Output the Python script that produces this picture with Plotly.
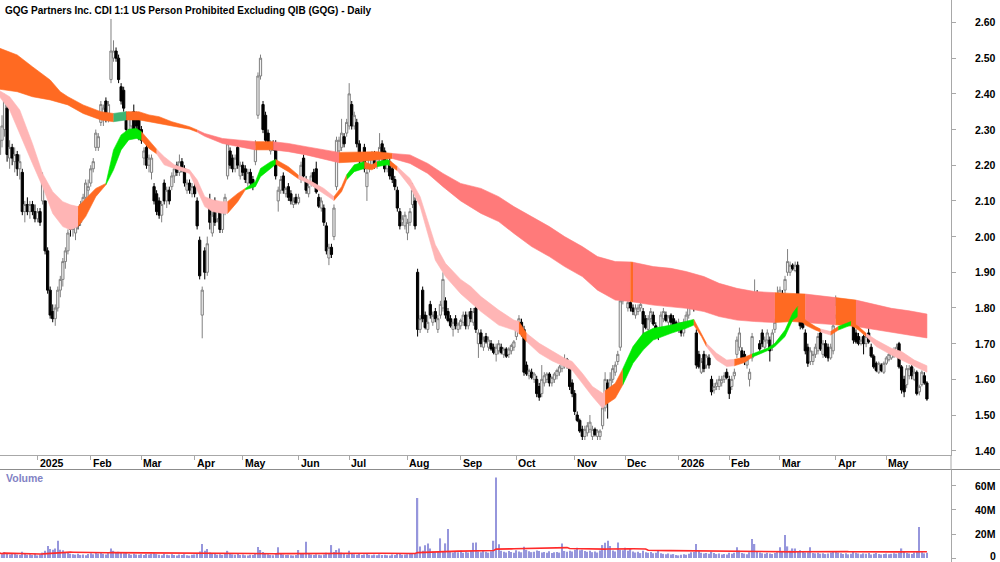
import numpy as np
import pandas as pd
import plotly.graph_objects as go

title_text = "GQG Partners Inc. CDI 1:1 US Person Prohibited Excluding QIB (GQG) - Daily"
start_date = "2024-12-09"
asx_holidays = ["2024-12-25", "2024-12-26", "2025-01-01", "2025-01-27", "2025-04-18",
                "2025-04-21", "2025-04-25", "2025-06-09", "2025-12-25", "2025-12-26",
                "2026-01-01", "2026-01-26", "2026-04-03", "2026-04-06"]

opens = [
    2.23, 2.27, 2.30, 2.36, 2.22, 2.25, 2.21, 2.23, 2.19, 2.18,
    2.07, 2.09, 2.07, 2.09, 2.07, 2.05, 2.07, 2.10, 2.10, 1.96,
    1.85, 1.79, 1.77, 1.80, 1.85, 1.88, 1.93, 1.96, 2.04, 2.02,
    2.01, 2.05, 2.04, 2.09, 2.11, 2.13, 2.15, 2.19, 2.25, 2.25,
    2.32, 2.33, 2.38, 2.33, 2.44, 2.50, 2.52, 2.50, 2.42, 2.41,
    2.34, 2.30, 2.31, 2.35, 2.34, 2.33, 2.30, 2.22, 2.25, 2.20,
    2.18, 2.14, 2.12, 2.10, 2.06, 2.15, 2.10, 2.13, 2.14, 2.17,
    2.20, 2.18, 2.21, 2.19, 2.13, 2.15, 2.12, 2.14, 2.10, 1.99,
    1.78, 1.96, 1.90, 2.10, 2.01, 2.10, 2.05, 2.07, 2.02, 2.07,
    2.17, 2.24, 2.22, 2.19, 2.25, 2.17, 2.20, 2.19, 2.15, 2.18,
    2.16, 2.21, 2.34, 2.45, 2.37, 2.34, 2.29, 2.24, 2.26, 2.26,
    2.10, 2.13, 2.17, 2.12, 2.14, 2.12, 2.09, 2.11, 2.095, 2.16,
    2.22, 2.16, 2.12, 2.15, 2.18, 2.19, 2.11, 2.08, 2.08, 2.03,
    1.94, 1.97, 2.00, 2.14, 2.24, 2.25, 2.28, 2.29, 2.31, 2.37,
    2.31, 2.32, 2.26, 2.20, 2.25, 2.14, 2.19, 2.20, 2.23, 2.20,
    2.22, 2.26, 2.24, 2.19, 2.21, 2.19, 2.16, 2.13, 2.07, 2.04,
    2.03, 2.01, 2.04, 2.09, 2.10, 1.90, 1.74, 1.85, 1.78, 1.74,
    1.81, 1.76, 1.79, 1.74, 1.78, 1.80, 1.82, 1.79, 1.77, 1.74,
    1.77, 1.74, 1.75, 1.76, 1.78, 1.75, 1.79, 1.76, 1.80, 1.70,
    1.73, 1.69, 1.72, 1.69, 1.70, 1.69, 1.67, 1.68, 1.69, 1.67,
    1.685, 1.67, 1.68, 1.69, 1.72, 1.74, 1.76, 1.74, 1.64, 1.61,
    1.62, 1.60, 1.60, 1.58, 1.56, 1.59, 1.60, 1.615, 1.59, 1.60,
    1.61, 1.62, 1.63, 1.64, 1.655, 1.63, 1.59, 1.56, 1.50, 1.485,
    1.46, 1.44, 1.45, 1.46, 1.44, 1.46, 1.44, 1.44, 1.47, 1.52,
    1.59, 1.57, 1.60, 1.62, 1.65, 1.69, 1.82, 1.87, 1.80, 1.815,
    1.80, 1.78, 1.79, 1.80, 1.79, 1.77, 1.74, 1.77, 1.78, 1.75,
    1.74, 1.74, 1.77, 1.78, 1.76, 1.78, 1.77, 1.76, 1.74, 1.75,
    1.73, 1.76, 1.78, 1.81, 1.84, 1.73, 1.67, 1.62, 1.67, 1.64,
    1.66, 1.60, 1.57, 1.58, 1.58, 1.59, 1.60, 1.62, 1.60, 1.58,
    1.61, 1.67, 1.69, 1.68, 1.67, 1.64, 1.60, 1.66, 1.80, 1.84,
    1.70, 1.73, 1.69, 1.71, 1.71, 1.69, 1.74, 1.78, 1.81, 1.84,
    1.85, 1.90, 1.90, 1.92, 1.905, 1.92, 1.78, 1.77, 1.73, 1.69,
    1.65, 1.65, 1.67, 1.68, 1.73, 1.67, 1.70, 1.69, 1.66, 1.68,
    1.78, 1.78, 1.80, 1.77, 1.78, 1.76, 1.77, 1.79, 1.73, 1.72,
    1.70, 1.72, 1.70, 1.73, 1.69, 1.665, 1.645, 1.62, 1.64, 1.62,
    1.645, 1.655, 1.66, 1.665, 1.675, 1.70, 1.635, 1.60, 1.585, 1.61,
    1.635, 1.60, 1.62, 1.565, 1.585, 1.61, 1.59]

highs = [
    2.30, 2.34, 2.40, 2.37, 2.27, 2.26, 2.25, 2.24, 2.23, 2.19,
    2.10, 2.11, 2.10, 2.10, 2.09, 2.08, 2.08, 2.18, 2.10, 1.97,
    1.86, 1.81, 1.81, 1.86, 1.89, 1.94, 1.97, 2.02, 2.05, 2.05,
    2.05, 2.06, 2.10, 2.12, 2.16, 2.16, 2.20, 2.22, 2.30, 2.29,
    2.38, 2.37, 2.39, 2.38, 2.61, 2.55, 2.53, 2.51, 2.43, 2.42,
    2.35, 2.35, 2.35, 2.37, 2.35, 2.34, 2.31, 2.25, 2.26, 2.23,
    2.23, 2.15, 2.13, 2.11, 2.10, 2.16, 2.14, 2.14, 2.18, 2.20,
    2.21, 2.23, 2.22, 2.20, 2.16, 2.16, 2.15, 2.15, 2.11, 2.00,
    1.86, 1.97, 2.00, 2.12, 2.07, 2.11, 2.09, 2.08, 2.09, 2.12,
    2.27, 2.25, 2.23, 2.23, 2.26, 2.21, 2.21, 2.20, 2.19, 2.19,
    2.17, 2.27, 2.46, 2.51, 2.38, 2.35, 2.30, 2.27, 2.27, 2.27,
    2.14, 2.17, 2.18, 2.14, 2.15, 2.13, 2.11, 2.12, 2.12, 2.21,
    2.23, 2.17, 2.15, 2.18, 2.19, 2.21, 2.12, 2.11, 2.09, 2.04,
    1.98, 1.98, 2.09, 2.28, 2.28, 2.33, 2.29, 2.33, 2.43, 2.38,
    2.35, 2.33, 2.27, 2.22, 2.26, 2.19, 2.23, 2.24, 2.24, 2.23,
    2.29, 2.27, 2.25, 2.22, 2.22, 2.20, 2.17, 2.14, 2.08, 2.06,
    2.07, 2.05, 2.08, 2.15, 2.11, 1.91, 1.78, 1.86, 1.79, 1.78,
    1.82, 1.79, 1.80, 1.78, 1.82, 1.90, 1.83, 1.80, 1.78, 1.77,
    1.78, 1.76, 1.77, 1.79, 1.79, 1.79, 1.80, 1.80, 1.81, 1.74,
    1.74, 1.72, 1.73, 1.72, 1.71, 1.70, 1.70, 1.71, 1.70, 1.69,
    1.69, 1.69, 1.70, 1.71, 1.76, 1.78, 1.77, 1.75, 1.65, 1.63,
    1.63, 1.62, 1.61, 1.59, 1.64, 1.62, 1.62, 1.62, 1.61, 1.62,
    1.63, 1.64, 1.65, 1.67, 1.66, 1.64, 1.60, 1.57, 1.51, 1.49,
    1.47, 1.47, 1.48, 1.50, 1.47, 1.465, 1.46, 1.46, 1.53, 1.62,
    1.60, 1.62, 1.64, 1.65, 1.68, 1.83, 1.86, 1.90, 1.83, 1.82,
    1.81, 1.81, 1.81, 1.82, 1.80, 1.78, 1.78, 1.80, 1.79, 1.76,
    1.745, 1.79, 1.80, 1.79, 1.78, 1.785, 1.78, 1.765, 1.77, 1.76,
    1.77, 1.79, 1.82, 1.87, 1.85, 1.74, 1.68, 1.66, 1.68, 1.67,
    1.67, 1.61, 1.59, 1.60, 1.61, 1.61, 1.62, 1.63, 1.61, 1.61,
    1.63, 1.72, 1.745, 1.69, 1.68, 1.66, 1.63, 1.73, 1.88, 1.85,
    1.71, 1.74, 1.72, 1.74, 1.72, 1.74, 1.77, 1.86, 1.86, 1.85,
    1.89, 1.965, 1.93, 1.925, 1.93, 1.93, 1.79, 1.78, 1.74, 1.70,
    1.69, 1.68, 1.70, 1.73, 1.74, 1.71, 1.71, 1.70, 1.70, 1.77,
    1.835, 1.82, 1.81, 1.80, 1.79, 1.78, 1.78, 1.80, 1.74, 1.73,
    1.72, 1.725, 1.73, 1.75, 1.70, 1.67, 1.65, 1.65, 1.645, 1.65,
    1.665, 1.675, 1.685, 1.69, 1.70, 1.705, 1.64, 1.61, 1.64, 1.64,
    1.64, 1.63, 1.625, 1.585, 1.625, 1.62, 1.595]

lows = [
    2.20, 2.25, 2.28, 2.21, 2.19, 2.20, 2.18, 2.17, 2.16, 2.06,
    2.04, 2.06, 2.05, 2.06, 2.04, 2.04, 2.03, 2.09, 1.95, 1.84,
    1.77, 1.76, 1.75, 1.79, 1.83, 1.86, 1.91, 1.95, 2.00, 2.00,
    1.99, 2.02, 2.03, 2.07, 2.10, 2.11, 2.14, 2.18, 2.24, 2.24,
    2.31, 2.31, 2.32, 2.32, 2.43, 2.49, 2.49, 2.43, 2.37, 2.35,
    2.29, 2.29, 2.30, 2.29, 2.30, 2.27, 2.26, 2.20, 2.19, 2.18,
    2.16, 2.09, 2.06, 2.05, 2.04, 2.09, 2.08, 2.09, 2.13, 2.15,
    2.17, 2.17, 2.18, 2.14, 2.12, 2.12, 2.11, 2.11, 2.02, 1.88,
    1.715, 1.88, 1.89, 2.02, 2.00, 2.03, 2.04, 2.01, 2.01, 2.06,
    2.16, 2.19, 2.18, 2.18, 2.19, 2.16, 2.17, 2.15, 2.14, 2.14,
    2.13, 2.20, 2.33, 2.44, 2.29, 2.26, 2.25, 2.23, 2.24, 2.16,
    2.07, 2.12, 2.12, 2.11, 2.10, 2.09, 2.08, 2.09, 2.09, 2.15,
    2.16, 2.12, 2.11, 2.14, 2.14, 2.12, 2.08, 2.07, 2.03, 1.95,
    1.92, 1.94, 1.99, 2.13, 2.23, 2.24, 2.25, 2.28, 2.30, 2.30,
    2.30, 2.25, 2.19, 2.19, 2.18, 2.10, 2.18, 2.19, 2.19, 2.19,
    2.21, 2.21, 2.18, 2.18, 2.16, 2.15, 2.13, 2.07, 2.02, 2.03,
    2.02, 1.99, 2.03, 2.08, 2.02, 1.72, 1.73, 1.76, 1.74, 1.73,
    1.77, 1.75, 1.76, 1.73, 1.77, 1.79, 1.77, 1.76, 1.745, 1.72,
    1.74, 1.73, 1.74, 1.75, 1.74, 1.74, 1.76, 1.75, 1.73, 1.66,
    1.69, 1.68, 1.70, 1.68, 1.68, 1.67, 1.65, 1.67, 1.67, 1.66,
    1.66, 1.66, 1.67, 1.68, 1.71, 1.73, 1.72, 1.61, 1.61, 1.60,
    1.60, 1.59, 1.55, 1.54, 1.55, 1.58, 1.59, 1.58, 1.58, 1.59,
    1.60, 1.61, 1.62, 1.63, 1.63, 1.57, 1.55, 1.50, 1.48, 1.45,
    1.43, 1.43, 1.44, 1.45, 1.43, 1.44, 1.43, 1.43, 1.46, 1.51,
    1.49, 1.56, 1.59, 1.61, 1.64, 1.68, 1.81, 1.82, 1.79, 1.79,
    1.78, 1.77, 1.78, 1.79, 1.70, 1.74, 1.73, 1.76, 1.75, 1.73,
    1.71, 1.73, 1.76, 1.76, 1.75, 1.75, 1.74, 1.74, 1.73, 1.72,
    1.72, 1.75, 1.77, 1.80, 1.79, 1.63, 1.63, 1.615, 1.62, 1.63,
    1.63, 1.555, 1.56, 1.57, 1.57, 1.58, 1.59, 1.60, 1.545, 1.57,
    1.60, 1.66, 1.68, 1.65, 1.64, 1.63, 1.58, 1.65, 1.79, 1.78,
    1.68, 1.69, 1.68, 1.70, 1.65, 1.68, 1.73, 1.77, 1.80, 1.80,
    1.84, 1.89, 1.89, 1.905, 1.90, 1.80, 1.74, 1.74, 1.67, 1.635,
    1.64, 1.64, 1.66, 1.67, 1.68, 1.66, 1.66, 1.65, 1.655, 1.67,
    1.77, 1.77, 1.78, 1.76, 1.76, 1.75, 1.76, 1.70, 1.70, 1.695,
    1.695, 1.67, 1.69, 1.70, 1.66, 1.63, 1.62, 1.615, 1.62, 1.615,
    1.64, 1.65, 1.655, 1.66, 1.67, 1.63, 1.56, 1.55, 1.575, 1.60,
    1.60, 1.595, 1.555, 1.555, 1.58, 1.585, 1.54]

closes = [
    2.27, 2.31, 2.38, 2.23, 2.25, 2.22, 2.23, 2.19, 2.21, 2.07,
    2.09, 2.07, 2.09, 2.07, 2.05, 2.07, 2.04, 2.16, 1.96, 1.85,
    1.78, 1.77, 1.80, 1.85, 1.88, 1.93, 1.96, 2.01, 2.02, 2.04,
    2.03, 2.03, 2.09, 2.11, 2.15, 2.14, 2.19, 2.21, 2.29, 2.28,
    2.37, 2.36, 2.33, 2.37, 2.52, 2.52, 2.50, 2.44, 2.38, 2.36,
    2.30, 2.34, 2.34, 2.30, 2.31, 2.28, 2.27, 2.24, 2.20, 2.22,
    2.22, 2.10, 2.07, 2.06, 2.09, 2.10, 2.13, 2.10, 2.17, 2.19,
    2.18, 2.21, 2.19, 2.15, 2.15, 2.13, 2.14, 2.12, 2.03, 1.89,
    1.85, 1.90, 1.98, 2.04, 2.06, 2.04, 2.08, 2.02, 2.07, 2.11,
    2.26, 2.20, 2.19, 2.22, 2.20, 2.20, 2.18, 2.16, 2.18, 2.15,
    2.14, 2.26, 2.45, 2.50, 2.30, 2.27, 2.26, 2.26, 2.245, 2.17,
    2.13, 2.16, 2.13, 2.135, 2.11, 2.10, 2.10, 2.095, 2.11, 2.20,
    2.17, 2.13, 2.14, 2.17, 2.15, 2.125, 2.085, 2.10, 2.04, 1.96,
    1.97, 1.95, 2.08, 2.27, 2.27, 2.29, 2.26, 2.32, 2.40, 2.31,
    2.34, 2.26, 2.22, 2.215, 2.19, 2.18, 2.22, 2.23, 2.20, 2.22,
    2.25, 2.22, 2.19, 2.21, 2.17, 2.16, 2.14, 2.08, 2.03, 2.05,
    2.06, 2.04, 2.07, 2.13, 2.03, 1.74, 1.77, 1.77, 1.745, 1.76,
    1.78, 1.78, 1.77, 1.77, 1.81, 1.88, 1.78, 1.765, 1.75, 1.76,
    1.75, 1.755, 1.765, 1.78, 1.75, 1.78, 1.77, 1.79, 1.74, 1.73,
    1.70, 1.71, 1.705, 1.71, 1.685, 1.675, 1.69, 1.70, 1.675, 1.685,
    1.665, 1.685, 1.695, 1.705, 1.75, 1.77, 1.73, 1.62, 1.615, 1.625,
    1.605, 1.615, 1.56, 1.55, 1.60, 1.61, 1.615, 1.59, 1.605, 1.615,
    1.625, 1.635, 1.645, 1.655, 1.64, 1.58, 1.56, 1.51, 1.485, 1.455,
    1.44, 1.46, 1.47, 1.48, 1.46, 1.445, 1.455, 1.455, 1.52, 1.60,
    1.54, 1.60, 1.63, 1.64, 1.67, 1.82, 1.85, 1.83, 1.815, 1.80,
    1.79, 1.80, 1.80, 1.81, 1.755, 1.745, 1.77, 1.79, 1.755, 1.735,
    1.72, 1.78, 1.79, 1.765, 1.775, 1.76, 1.75, 1.745, 1.76, 1.73,
    1.76, 1.78, 1.81, 1.84, 1.80, 1.64, 1.635, 1.65, 1.63, 1.665,
    1.64, 1.565, 1.58, 1.59, 1.60, 1.60, 1.61, 1.605, 1.56, 1.60,
    1.62, 1.71, 1.73, 1.66, 1.65, 1.655, 1.62, 1.72, 1.84, 1.79,
    1.685, 1.70, 1.71, 1.73, 1.68, 1.73, 1.76, 1.84, 1.85, 1.81,
    1.88, 1.93, 1.92, 1.91, 1.92, 1.81, 1.75, 1.745, 1.68, 1.645,
    1.68, 1.67, 1.69, 1.72, 1.685, 1.70, 1.665, 1.66, 1.69, 1.75,
    1.81, 1.81, 1.79, 1.79, 1.765, 1.775, 1.765, 1.71, 1.705, 1.70,
    1.71, 1.70, 1.72, 1.705, 1.665, 1.635, 1.625, 1.645, 1.625, 1.645,
    1.66, 1.67, 1.68, 1.68, 1.69, 1.635, 1.57, 1.565, 1.63, 1.63,
    1.61, 1.62, 1.56, 1.58, 1.62, 1.59, 1.545]

volumes_m = [
    4.2, 3.1, 5.0, 3.8, 2.9, 3.5, 4.1, 3.0, 2.6, 5.2,
    3.4, 2.8, 3.1, 2.5, 3.7, 2.2, 3.0, 4.5, 6.0, 10.0,
    7.5, 7.0, 8.0, 14.4, 7.0, 6.5, 5.0, 4.2, 3.6, 3.2,
    2.8, 3.5, 2.6, 3.0, 2.4, 3.3, 4.0, 3.1, 4.4, 3.8,
    4.6, 3.5, 3.0, 4.1, 8.0, 6.0, 4.5, 5.2, 4.8, 3.9,
    4.2, 3.4, 2.8, 3.6, 3.0, 2.7, 3.2, 2.5, 3.4, 2.9,
    3.6, 4.0, 3.3, 2.8, 2.4, 3.5, 2.7, 2.3, 3.1, 2.6,
    2.2, 2.9, 2.5, 3.2, 2.4, 2.0, 2.7, 3.0, 3.8, 5.5,
    11.7, 6.0, 7.5, 4.6, 3.5, 3.9, 2.8, 3.2, 2.6, 3.4,
    6.0, 4.0, 3.1, 2.7, 3.5, 2.5, 2.9, 2.4, 2.2, 2.8,
    2.6, 4.2, 9.2, 6.7, 5.0, 4.0, 3.2, 2.6, 2.4, 3.6,
    8.9, 4.1, 3.0, 2.5, 2.7, 2.3, 2.1, 2.6, 6.7, 3.4,
    3.8, 13.6, 4.0, 2.9, 2.5, 3.1, 2.8, 2.4, 3.0, 4.4,
    3.9, 10.8, 5.0, 6.7, 8.0, 4.5, 3.6, 3.0, 6.0, 3.5,
    3.2, 2.8, 3.4, 2.6, 3.0, 3.8, 2.7, 2.4, 2.9, 2.3,
    3.1, 2.6, 2.8, 2.4, 2.2, 2.9, 2.5, 3.3, 3.8, 2.7,
    2.9, 3.2, 3.5, 3.6, 4.0, 50.0, 9.7, 6.0, 10.6, 12.2,
    8.0, 5.5, 4.8, 5.2, 16.4, 5.5, 12.2, 24.2, 5.0, 4.6,
    5.8, 4.9, 6.2, 4.4, 5.3, 4.7, 6.0, 12.8, 13.0, 5.5,
    4.8, 6.1, 5.2, 4.5, 5.6, 14.4, 67.0, 11.4, 6.0, 5.2,
    4.6, 5.9, 5.0, 4.3, 6.5, 5.4, 4.8, 9.4, 6.8, 5.6,
    4.9, 5.3, 6.2, 5.8, 4.7, 5.0, 4.4, 5.6, 4.2, 4.8,
    5.1, 4.5, 12.2, 5.9, 5.2, 6.0, 5.4, 6.8, 8.6, 6.5,
    7.0, 5.8, 5.2, 6.1, 4.9, 5.5, 4.6, 6.3, 10.8, 12.8,
    14.4, 10.0, 6.2, 5.5, 13.0, 7.0, 6.4, 8.6, 6.0, 8.0,
    5.5, 4.6, 5.2, 4.1, 6.0, 4.8, 4.3, 5.1, 3.9, 4.5,
    6.7, 4.0, 3.5, 3.1, 3.8, 2.9, 3.3, 2.6, 2.2, 2.8,
    3.2, 2.7, 3.6, 4.8, 5.0, 11.7, 6.0, 4.4, 3.8, 4.2,
    3.5, 5.2, 4.1, 3.3, 3.7, 2.9, 3.4, 3.0, 4.3, 3.6,
    4.5, 8.9, 6.2, 4.1, 3.7, 3.2, 4.8, 15.8, 11.7, 5.5,
    4.7, 4.0, 3.6, 4.4, 3.8, 3.4, 4.1, 4.9, 8.9, 5.2,
    19.2, 9.7, 6.0, 8.0, 8.0, 5.8, 6.5, 5.2, 4.6, 4.9,
    8.9, 4.2, 3.9, 4.5, 3.6, 4.0, 3.3, 3.8, 4.6, 5.0,
    5.5, 4.7, 4.0, 3.4, 3.9, 3.1, 3.6, 5.2, 4.4, 3.8,
    3.2, 3.9, 3.5, 4.1, 3.0, 3.6, 4.2, 3.4, 2.9, 3.3,
    3.7, 3.1, 3.5, 4.0, 3.6, 4.4, 8.0, 5.6, 4.2, 3.8,
    3.4, 4.6, 5.0, 25.8, 4.8, 3.9, 4.4]

# slow (long-term) ribbon
slow_x = [0, 7, 13, 20, 24, 27, 33, 40, 45, 50, 55, 59, 63, 68, 75, 78, 81, 88, 94, 101,
          108, 114, 121, 129, 134, 142, 149, 155, 162, 169, 175, 182, 190, 197, 203, 210,
          217, 223, 230, 236, 243, 249, 250, 258, 265, 271, 278, 284, 291, 298, 306, 313,
          318, 326, 330, 338, 346, 352, 359, 366]
slow_top = [2.528, 2.509, 2.476, 2.439, 2.406, 2.392, 2.369, 2.350, 2.345, 2.350, 2.350,
            2.341, 2.336, 2.322, 2.308, 2.299, 2.289, 2.275, 2.271, 2.266, 2.266, 2.261,
            2.252, 2.243, 2.236, 2.238, 2.238, 2.233, 2.229, 2.205, 2.177, 2.149, 2.135,
            2.112, 2.084, 2.056, 2.028, 2.000, 1.972, 1.944, 1.930, 1.929, 1.928, 1.916,
            1.911, 1.902, 1.888, 1.869, 1.855, 1.846, 1.843, 1.841, 1.839, 1.832, 1.829,
            1.822, 1.808, 1.799, 1.792, 1.783]
slow_bot = [2.413, 2.406, 2.392, 2.383, 2.375, 2.369, 2.345, 2.327, 2.322, 2.327, 2.327,
            2.322, 2.316, 2.311, 2.301, 2.293, 2.281, 2.261, 2.252, 2.243, 2.243, 2.238,
            2.229, 2.215, 2.207, 2.210, 2.215, 2.219, 2.205, 2.177, 2.140, 2.100, 2.065,
            2.042, 2.009, 1.972, 1.944, 1.916, 1.888, 1.850, 1.822, 1.818, 1.817, 1.808,
            1.804, 1.799, 1.790, 1.776, 1.766, 1.762, 1.759, 1.762, 1.759, 1.755, 1.753,
            1.748, 1.738, 1.731, 1.724, 1.716]
slow_breaks = [0, 45, 50, 78, 101, 108, 134, 155, 249, 250, 306, 318, 330, 338, 366]
slow_states = ["O", "T", "O", "S", "O", "S", "O", "S", "O", "S", "O", "S", "O", "S"]

# fast (short-term) ribbon
fast_x = [0, 4, 8, 13, 17, 21, 25, 28, 31, 34, 38, 42, 45, 48, 51, 54, 56, 59, 62, 65,
          69, 75, 78, 81, 84, 88, 90, 94, 97, 101, 103, 107, 109, 114, 118, 122, 128, 132,
          135, 137, 140, 144, 147, 149, 153, 154, 157, 162, 166, 169, 172, 176, 182, 186,
          190, 197, 203, 205, 208, 213, 218, 223, 226, 230, 234, 238, 239, 243, 246, 250,
          254, 258, 265, 271, 274, 277, 279, 283, 287, 290, 294, 297, 303, 306, 310, 313,
          315, 318, 322, 324, 328, 331, 336, 339, 342, 346, 352, 356, 361, 366]
fast_top = [2.409, 2.392, 2.355, 2.261, 2.177, 2.126, 2.098, 2.089, 2.084, 2.107, 2.135,
            2.149, 2.243, 2.285, 2.301, 2.303, 2.294, 2.271, 2.245, 2.224, 2.201, 2.187,
            2.159, 2.112, 2.103, 2.098, 2.098, 2.121, 2.135, 2.154, 2.191, 2.210, 2.216,
            2.196, 2.172, 2.159, 2.135, 2.112, 2.140, 2.173, 2.201, 2.210, 2.201, 2.210,
            2.215, 2.213, 2.196, 2.163, 2.112, 2.047, 1.977, 1.925, 1.880, 1.860, 1.832,
            1.794, 1.766, 1.762, 1.729, 1.701, 1.680, 1.659, 1.650, 1.617, 1.580, 1.561,
            1.568, 1.589, 1.630, 1.692, 1.729, 1.743, 1.752, 1.762, 1.768, 1.729, 1.701,
            1.673, 1.654, 1.656, 1.662, 1.671, 1.687, 1.701, 1.738, 1.785, 1.804, 1.766,
            1.748, 1.741, 1.734, 1.748, 1.762, 1.748, 1.729, 1.710, 1.687, 1.678, 1.654,
            1.638]
fast_bot = [2.392, 2.355, 2.289, 2.205, 2.140, 2.065, 2.028, 2.019, 2.028, 2.056, 2.112,
            2.145, 2.187, 2.243, 2.271, 2.275, 2.271, 2.247, 2.232, 2.201, 2.191, 2.177,
            2.131, 2.084, 2.070, 2.065, 2.065, 2.098, 2.131, 2.140, 2.168, 2.191, 2.203,
            2.182, 2.162, 2.149, 2.121, 2.101, 2.126, 2.159, 2.182, 2.191, 2.187, 2.196,
            2.201, 2.199, 2.185, 2.140, 2.084, 2.009, 1.934, 1.888, 1.840, 1.815, 1.790,
            1.752, 1.738, 1.729, 1.706, 1.673, 1.652, 1.636, 1.626, 1.589, 1.552, 1.519,
            1.528, 1.547, 1.585, 1.645, 1.682, 1.710, 1.729, 1.743, 1.752, 1.720, 1.692,
            1.654, 1.636, 1.638, 1.647, 1.662, 1.680, 1.692, 1.720, 1.766, 1.776, 1.752,
            1.738, 1.733, 1.724, 1.738, 1.752, 1.738, 1.720, 1.692, 1.668, 1.654, 1.636,
            1.620]
fast_breaks = [0, 31, 42, 56, 62, 90, 97, 109, 118, 132, 137, 144, 149, 154, 157, 205, 208,
               239, 246, 274, 279, 290, 297, 315, 324, 328, 331, 336, 342, 366]
fast_states = ["P", "O", "G", "O", "P", "O", "G", "O", "P", "O", "G", "O", "G", "O", "P",
               "O", "P", "O", "G", "O", "P", "O", "G", "O", "P", "O", "G", "O", "P"]

price_ticks = [1.40, 1.50, 1.60, 1.70, 1.80, 1.90, 2.00, 2.10, 2.20, 2.30, 2.40, 2.50, 2.60]
volume_ticks = [0, 20, 40, 60]
volume_tick_labels = ["0", "20M", "40M", "60M"]

state_colors = {"O": "#FF6A22", "S": "#FF7A7A", "P": "#FFB5B5", "G": "#00E800", "T": "#3DB472"}
FONT = "Liberation Sans, Arial, sans-serif"

# ---------------------------------------------------------------
n = len(closes)
cbd = pd.offsets.CustomBusinessDay(holidays=asx_holidays)
dates = pd.date_range(start=start_date, periods=n, freq=cbd)
idx = np.arange(n)

month_idx, month_lab = [], []
for i in range(1, n):
    if dates[i].month != dates[i - 1].month:
        month_idx.append(i)
        month_lab.append(str(dates[i].year) if dates[i].month == 1 else dates[i].strftime("%b"))

vol_ma = pd.Series(volumes_m).rolling(60, min_periods=1).mean()

fig = go.Figure()


def add_ribbon(xs, top, bot, breaks, states):
    for a, b, st in zip(breaks[:-1], breaks[1:], states):
        i0, i1 = xs.index(a), xs.index(b)
        sx = xs[i0:i1 + 1]
        px = sx + sx[::-1]
        py = top[i0:i1 + 1] + bot[i0:i1 + 1][::-1]
        c = state_colors[st]
        fig.add_trace(go.Scatter(x=px, y=py, mode="lines", fill="toself", fillcolor=c,
                                 line=dict(color=c, width=0.6), hoverinfo="skip",
                                 xaxis="x", yaxis="y"))


add_ribbon(slow_x, slow_top, slow_bot, slow_breaks, slow_states)
add_ribbon(fast_x, fast_top, fast_bot, fast_breaks, fast_states)

fig.add_trace(go.Candlestick(
    x=idx, open=opens, high=highs, low=lows, close=closes,
    increasing=dict(line=dict(color="#808080", width=1), fillcolor="#F2F2F2"),
    decreasing=dict(line=dict(color="#000000", width=1), fillcolor="#000000"),
    whiskerwidth=0, hoverinfo="skip", xaxis="x", yaxis="y"))

fig.add_trace(go.Bar(x=idx, y=volumes_m, width=0.5, marker=dict(color="#9696DC", line=dict(width=0)),
                     hoverinfo="skip", xaxis="x2", yaxis="y2"))
fig.add_trace(go.Scatter(x=idx, y=vol_ma, mode="lines", line=dict(color="#FF2A2A", width=1.6),
                         hoverinfo="skip", xaxis="x2", yaxis="y2"))

W, H = 1000, 562
plot_right = 951
price_bottom_px = 455
vol_top_px = 470
pd_bottom = 1 - price_bottom_px / H
vd_top = 1 - vol_top_px / H

axis_common = dict(showgrid=False, zeroline=False, fixedrange=True)
fig.update_layout(
    width=W, height=H, margin=dict(l=0, r=W - plot_right, t=0, b=0),
    paper_bgcolor="white", plot_bgcolor="white", showlegend=False,
    boxgap=0.12, boxgroupgap=0,
    xaxis=dict(domain=[0, 1], range=[0.2, 375.5], anchor="y", showline=True,
               linecolor="#A8A8A8", linewidth=1, ticks="outside", ticklen=4,
               tickcolor="#A8A8A8", tickvals=month_idx, showticklabels=False,
               rangeslider=dict(visible=False), **axis_common),
    xaxis2=dict(domain=[0, 1], matches="x", anchor="y2", showline=False,
                showticklabels=False, ticks="", **axis_common),
    yaxis=dict(domain=[pd_bottom, 1], range=[1.388, 2.663], side="right", anchor="x",
               showline=True, linecolor="#A8A8A8", linewidth=1, ticks="outside",
               ticklen=4, tickcolor="#A8A8A8", tickvals=price_ticks,
               showticklabels=False, **axis_common),
    yaxis2=dict(domain=[0, vd_top], range=[-3.3, 73.3], side="right", anchor="x2",
                showline=True, linecolor="#A8A8A8", linewidth=1, ticks="outside",
                ticklen=4, tickcolor="#A8A8A8", tickvals=volume_ticks,
                showticklabels=False, **axis_common),
)

shapes = [
    dict(type="line", xref="paper", yref="paper", x0=0, x1=W / plot_right,
         y0=1 - 469.5 / H, y1=1 - 469.5 / H, line=dict(color="#8C8C8C", width=1)),
    dict(type="line", xref="paper", yref="paper", x0=1, x1=1, y0=vd_top, y1=pd_bottom,
         line=dict(color="#A8A8A8", width=1)),
]
fig.update_layout(shapes=shapes)

ann = []
lab_font = dict(family=FONT, size=10.5, color="#000000", weight="bold")
right_x = 998 / plot_right
for v in price_ticks:
    ann.append(dict(x=right_x, y=v, xref="paper", yref="y", text=f"{v:.2f}", showarrow=False,
                    xanchor="right", yanchor="middle", font=lab_font))
for v, t in zip(volume_ticks, volume_tick_labels):
    ann.append(dict(x=right_x, y=v, xref="paper", yref="y2", text=t, showarrow=False,
                    xanchor="right", yanchor="middle", yshift=(2 if v == 0 else 0),
                    font=lab_font))
for i, t in zip(month_idx, month_lab):
    ann.append(dict(x=i, y=1 - 463 / H, xref="x", yref="paper", text=t, showarrow=False,
                    xanchor="left", yanchor="middle", font=lab_font))
ann.append(dict(x=3 / plot_right, y=1 - 10 / H, xref="paper", yref="paper", text=title_text,
                showarrow=False, xanchor="left", yanchor="middle",
                font=dict(family=FONT, size=10, color="#000000", weight="bold")))
ann.append(dict(x=4 / plot_right, y=1 - 478 / H, xref="paper", yref="paper", text="Volume",
                showarrow=False, xanchor="left", yanchor="middle",
                font=dict(family=FONT, size=10.5, color="#8282C4", weight="bold")))
fig.update_layout(annotations=ann)

fig.write_html("out.html")
